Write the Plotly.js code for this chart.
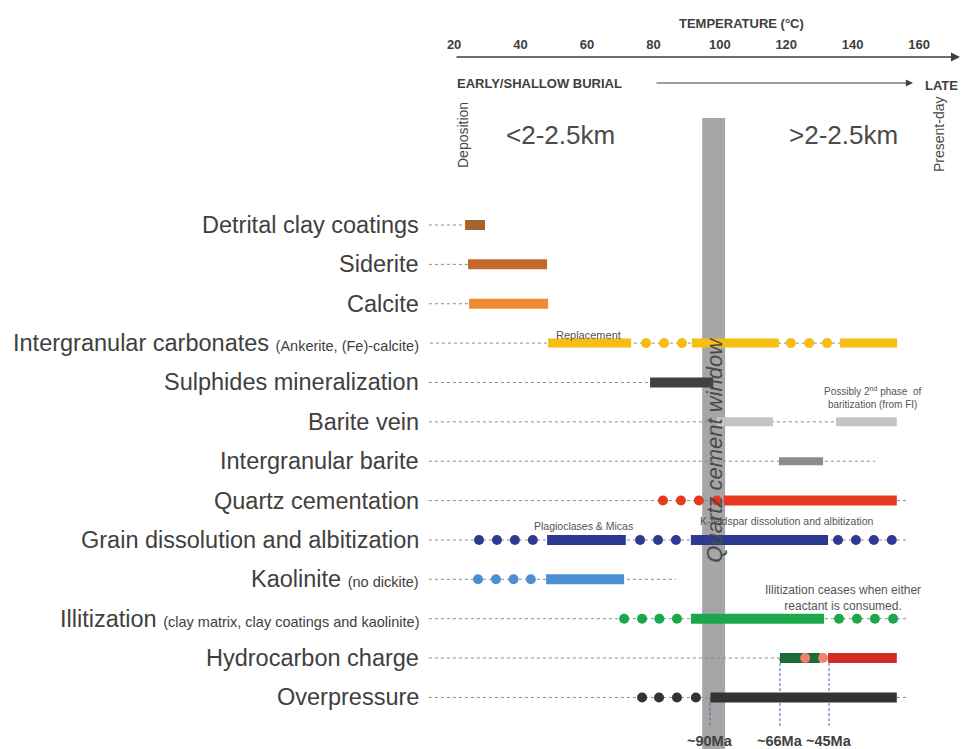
<!DOCTYPE html>
<html>
<head>
<meta charset="utf-8">
<script src="https://cdn.plot.ly/plotly-3.0.1.min.js"></script>
<style>html,body{margin:0;padding:0;background:#fff;}#chart{width:961px;height:749px;}</style>
</head>
<body>
<div id="chart"></div>
<script>
// ---- DATA ----
const rows = ["Detrital clay coatings","Siderite","Calcite","Intergranular carbonates","Sulphides mineralization","Barite vein","Intergranular barite","Quartz cementation","Grain dissolution and albitization","Kaolinite","Illitization","Hydrocarbon charge","Overpressure"];
const rowNotes = ["","","","(Ankerite, (Fe)-calcite)","","","","","","(no dickite)","(clay matrix, clay coatings and kaolinite)","",""];
const tempTicks = [20,40,60,80,100,120,140,160];

// solid (certain) phases, temperature °C
const segRow  = [0,1,2,3,3,3,4,5,5,6,7,8,8,9,10,11,11,12];
const segFrom = [23.3,24.2,24.5,48.3,91.6,136.2,79.0,99.1,135.0,117.8,101.2,48.0,91.3,47.7,91.3,118.1,132.6,97.2];
const segTo   = [29.3,48.0,48.3,73.3,117.8,153.4,98.0,116.0,153.3,131.1,153.3,71.7,132.6,71.2,131.4,130.2,153.3,153.3];

// dotted (uncertain) phases, temperature °C
const dotRow  = [3,3,3,3,3,3, 7,7,7,7, 8,8,8,8,8,8,8,8,8,8,8, 9,9,9,9, 10,10,10,10,10,10,10,10, 11,11, 12,12,12,12];
const dotTemp = [77.8,83.2,88.6,121.4,126.9,132.3, 82.9,88.3,93.7,99.1, 27.5,32.9,38.3,43.7,76.0,81.4,86.8,135.6,141.0,146.4,151.8, 27.2,32.6,37.9,43.1, 71.2,76.6,81.8,87.1,135.9,141.3,146.7,152.2, 125.7,131.1, 76.6,81.7,87.1,92.8];

// guide line extents per row
const guideFrom = [12.4,12.4,12.4,12.7,12.4,12.4,12.4,12.4,12.4,12.4,12.4,12.4,12.4];
const guideTo   = [23.3,24.2,24.5,153.3,98.0,153.3,146.7,156.3,156.6,86.8,156.6,153.3,156.6];

// quartz cement window and timing events
const qzWindow = [94.7,101.6];
const eventTemp  = [97.05,118.1,132.9];
const eventRow   = [12,11,11];
const eventLabel = ["~90Ma","~66Ma","~45Ma"];

// ---- STYLE ----
const rowColor = ['#A5652A','#C4692C','#F08A2E','#F7BE12','#404040','#C4C4C4','#8C8C8C','#E8381E','#2E3A92','#4A8FD4','#1AA84A','#1D6B35','#333333'];
const segColor = segRow.map((r,i)=> (r===11 && i===16) ? '#D42A27' : rowColor[r]);
const dotColor = dotRow.map(r => r===11 ? '#F2826F' : rowColor[r]);
const FONT = "Liberation Sans, Arial, sans-serif";
const TXT = '#404040';

// pixel <-> axis helpers for layout placement
const W = 961, H = 749;
const xRange = [-116.74, 172.63];
const yRange = [13.31, -5.715];
const pxY = p => 1 - p / H;

const traces = [];
// guide lines
{
  const gx = [], gy = [];
  rows.forEach((r,i)=>{ gx.push(guideFrom[i], guideTo[i], null); gy.push(i,i,null); });
  traces.push({type:'scatter', mode:'lines', x:gx, y:gy, hoverinfo:'skip',
    line:{color:'#8a8a8a', width:1, dash:'dot'}, showlegend:false});
}
// solid segments
segRow.forEach((r,i)=>{
  traces.push({type:'scatter', mode:'lines', x:[segFrom[i], segTo[i]], y:[r,r],
    line:{color:segColor[i], width: r===6 ? 8 : (r===3||r===5 ? 9 : 10)}, showlegend:false, hoverinfo:'x'});
});
// dots
traces.push({type:'scatter', mode:'markers', x:dotTemp, y:dotRow,
  marker:{color:dotColor, size:10, line:{width:0}}, showlegend:false, hoverinfo:'x'});

const ann = [];
function A(o){ ann.push(Object.assign({xanchor:'center', yanchor:'middle', showarrow:false}, o)); }
// row labels
rows.forEach((r,i)=>{
  const note = rowNotes[i] ? ' <span style="font-size:14.5px">' + rowNotes[i] + '</span>' : '';
  A({xref:'paper', yref:'y', x:421/W, y:i, xanchor:'right',
    text: r + note, font:{family:FONT, size:23.5, color:TXT}});
});
// headers
A({xref:'paper', yref:'paper', x:741/W, y:pxY(23), text:'TEMPERATURE (°C)',
  font:{family:FONT, size:13, color:TXT, weight:'bold'}});
A({xref:'paper', yref:'paper', x:455/W, y:pxY(83), xanchor:'left', text:'EARLY/SHALLOW BURIAL',
  font:{family:FONT, size:13, color:TXT, weight:'bold'}});
A({xref:'paper', yref:'paper', x:923/W, y:pxY(85), xanchor:'left', text:'LATE',
  font:{family:FONT, size:13, color:TXT, weight:'bold'}});
// arrows
A({xref:'paper', yref:'paper', x:913/W, y:pxY(83), ax:-258, ay:0, axref:'pixel', ayref:'pixel',
  text:'', showarrow:true, arrowhead:2, arrowsize:1.2, arrowwidth:1.2, arrowcolor:'#404040'});
A({xref:'paper', yref:'paper', x:960/W, y:pxY(57), ax:-505, ay:0, axref:'pixel', ayref:'pixel',
  text:'', showarrow:true, arrowhead:2, arrowsize:1.2, arrowwidth:1.5, arrowcolor:'#404040'});
// depth labels
A({xref:'paper', yref:'paper', x:560/W, y:pxY(135), text:'<2-2.5km',
  font:{family:FONT, size:26, color:'#4a4a4a'}});
A({xref:'paper', yref:'paper', x:843/W, y:pxY(135), text:'>2-2.5km',
  font:{family:FONT, size:26, color:'#4a4a4a'}});
A({xref:'paper', yref:'paper', x:463/W, y:pxY(135), text:'Deposition', textangle:-90,
  font:{family:FONT, size:14, color:'#4a4a4a'}});
A({xref:'paper', yref:'paper', x:939/W, y:pxY(135), text:'Present-day', textangle:-90,
  font:{family:FONT, size:14, color:'#4a4a4a'}});
// quartz window label
A({xref:'x', yref:'paper', x:(qzWindow[0]+qzWindow[1])/2, y:pxY(450), text:'Quartz cement window', textangle:-90,
  font:{family:FONT, size:22, color:'#4a4a4a', style:'italic'}});
// notes
A({xref:'paper', yref:'paper', x:588/W, y:pxY(335), text:'Replacement',
  font:{family:FONT, size:11, color:'#555'}});
A({xref:'paper', yref:'paper', x:873/W, y:pxY(397), text:'Possibly 2<sup>nd</sup> phase  of<br>baritization (from FI)',
  font:{family:FONT, size:10, color:'#555'}});
A({xref:'paper', yref:'paper', x:583/W, y:pxY(526), text:'Plagioclases &amp; Micas',
  font:{family:FONT, size:10.5, color:'#555'}});
A({xref:'paper', yref:'paper', x:787/W, y:pxY(521), text:'K-feldspar dissolution and albitization',
  font:{family:FONT, size:10.5, color:'#555'}});
A({xref:'paper', yref:'paper', x:843/W, y:pxY(598), text:'Illitization ceases when either<br>reactant is consumed.',
  font:{family:FONT, size:12, color:'#555'}});
// event labels
eventTemp.forEach((t,i)=>{
  A({xref:'x', yref:'paper', x:t, y:pxY(741), text:eventLabel[i],
    font:{family:FONT, size:14.5, color:'#404040', weight:'bold'}});
});

const shapes = [];
shapes.push({type:'rect', xref:'x', yref:'paper', x0:qzWindow[0], x1:qzWindow[1], y0:0, y1:pxY(118),
  fillcolor:'#A6A6A6', line:{width:0}, layer:'below'});
eventTemp.forEach((t,i)=>{
  shapes.push({type:'line', xref:'x', yref:'y', x0:t, x1:t, y0:eventRow[i], y1:12.73,
    line:{color:'#3d6bb3', width:1, dash:'3px,2px'}, layer:'below'});
});

const layout = {
  width:W, height:H, margin:{l:0,r:0,t:0,b:0},
  paper_bgcolor:'#fff', plot_bgcolor:'#fff', showlegend:false,
  xaxis:{range:xRange, anchor:'free', position:pxY(57), side:'top', showline:false, showgrid:false, zeroline:false,
    tickvals:tempTicks, ticks:'', ticklabelstandoff:5, tickfont:{family:FONT, size:13, color:TXT, weight:'bold'}, fixedrange:true},
  yaxis:{range:yRange, visible:false, showgrid:false, zeroline:false, fixedrange:true},
  annotations:ann, shapes:shapes
};
Plotly.newPlot('chart', traces, layout, {displayModeBar:false, staticPlot:true});
</script>
</body>
</html>
